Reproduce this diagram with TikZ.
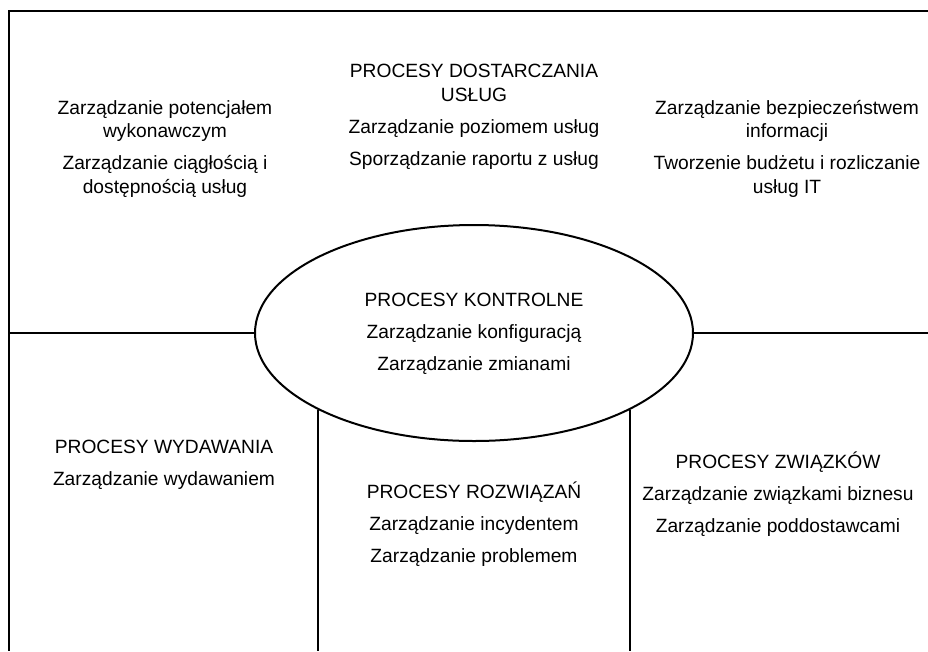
\documentclass[tikz,border=0pt]{standalone}
\usepackage{fontspec}
\setmainfont{Liberation Sans}
\usetikzlibrary{shapes.geometric}
\tikzset{
  frameline/.style={line width=1.5pt},
  blocktext/.style={align=center, anchor=base, inner sep=0pt,
    font=\fontsize{14.4pt}{17.4pt}\selectfont},
}
\begin{document}
\begin{tikzpicture}[x=0.75pt,y=-0.75pt]
\useasboundingbox (0,0) rectangle (928,651);

\node[frameline, draw, ellipse, minimum width=328.5pt, minimum height=162pt, inner sep=0pt] (ctl) at (474,333) {};

\draw[frameline] (928,11) -- (9,11) -- (9,651);
\draw[frameline] (9,333) -- (ctl.west);
\draw[frameline] (ctl.east) -- (928,333);
\draw[frameline] (ctl.south west) -- (ctl.south west |- 0,651);
\draw[frameline] (ctl.south east) -- (ctl.south east |- 0,651);

% anchor=base sits on the last line of each block
\node[blocktext] (cap) at (165,193) {Zarządzanie potencjałem\\ wykonawczym\\[6.6pt] Zarządzanie ciągłością i\\ dostępnością usług};
\node[blocktext] (srv) at (474,165) {PROCESY DOSTARCZANIA\\ USŁUG\\[6.6pt] Zarządzanie poziomem usług\\[6.6pt] Sporządzanie raportu z usług};
\node[blocktext] (sec) at (787,193) {Zarządzanie bezpieczeństwem\\ informacji\\[6.6pt] Tworzenie budżetu i rozliczanie\\ usług IT};

\node[blocktext] (ctltxt) at (474,370) {PROCESY KONTROLNE\\[6.6pt] Zarządzanie konfiguracją\\[6.6pt] Zarządzanie zmianami};

\node[blocktext] (rel) at (164,485) {PROCESY WYDAWANIA\\[6.6pt] Zarządzanie wydawaniem};
\node[blocktext] (res) at (474,562) {PROCESY ROZWIĄZAŃ\\[6.6pt] Zarządzanie incydentem\\[6.6pt] Zarządzanie problemem};
\node[blocktext] (bus) at (778,532) {PROCESY ZWIĄZKÓW\\[6.6pt] Zarządzanie związkami biznesu\\[6.6pt] Zarządzanie poddostawcami};
\end{tikzpicture}
\end{document}
